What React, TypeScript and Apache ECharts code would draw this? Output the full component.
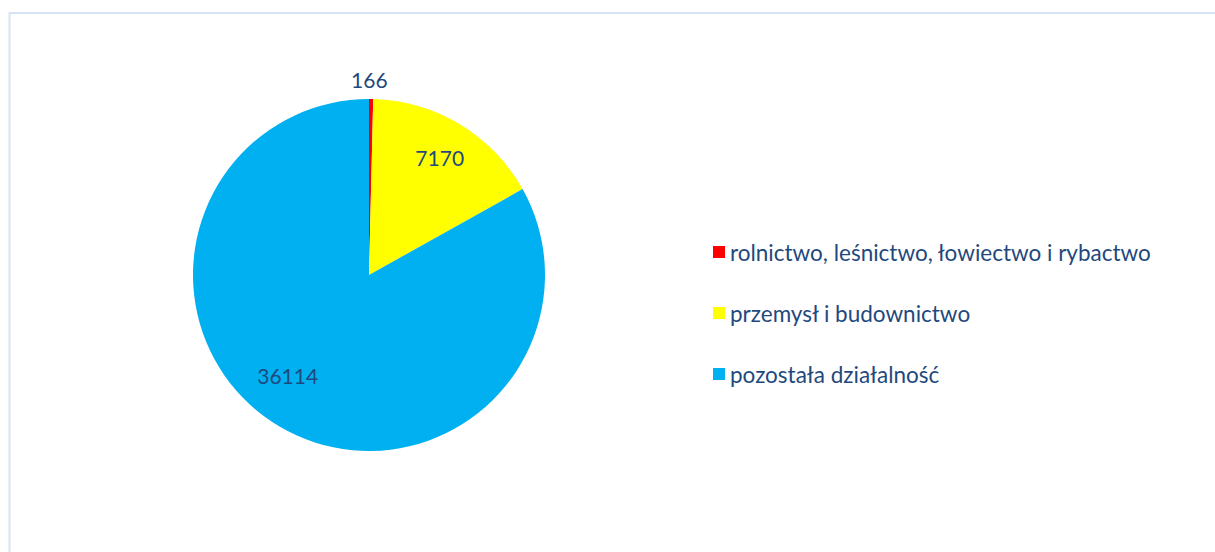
import React, { useEffect, useRef } from "react";
import * as echarts from "echarts";

const categories = [
  "rolnictwo, leśnictwo, łowiectwo i rybactwo",
  "przemysł i budownictwo",
  "pozostała działalność",
];
const values = [166, 7170, 36114];
const colors = ["#ff0000", "#ffff00", "#00b0f0"];
const textColor = "#1f497d";
const font = "Lato, 'Noto Sans', sans-serif";

export default function App() {
  const ref = useRef<HTMLDivElement>(null);
  useEffect(() => {
    document.body.style.margin = "0";
    const chart = echarts.init(ref.current!, null, { renderer: "svg" });
    const data = categories.map((name, i) => ({
      name,
      value: values[i],
      itemStyle: { color: colors[i] },
    }));
    const transparent = categories.map((name, i) => ({
      name,
      value: values[i],
      itemStyle: { color: "rgba(0,0,0,0)" },
      label: i === 2 ? { offset: [-12, -18] } : i === 0 ? { offset: [-2, 1] } : {},
    }));
    chart.setOption({
      animation: false,
      backgroundColor: "#ffffff",
      graphic: [
        {
          type: "rect",
          shape: { x: 9.5, y: 13, width: 1240, height: 600 },
          style: { fill: "none", stroke: "#d6e3f4", lineWidth: 2 },
          silent: true,
        },
      ],
      legend: {
        orient: "vertical",
        left: 708,
        top: 235,
        icon: "rect",
        itemWidth: 12,
        itemHeight: 12,
        itemGap: 37,
        selectedMode: false,
        data: categories.map((name, i) => ({ name, itemStyle: { color: colors[i] } })),
        textStyle: { color: textColor, fontSize: 22.5, fontFamily: font, lineHeight: 24 },
      },
      series: [
        {
          type: "pie",
          center: [369, 275],
          radius: [0, 176],
          startAngle: 90,
          clockwise: true,
          label: { show: false },
          labelLine: { show: false },
          silent: true,
          data,
        },
        {
          type: "pie",
          center: [369, 275],
          radius: [92, 176],
          startAngle: 90,
          clockwise: true,
          silent: true,
          label: {
            show: true,
            position: "inside",
            formatter: (p: any) => (p.dataIndex === 0 ? "" : String(p.value)),
            color: textColor,
            fontSize: 21,
            fontFamily: font,
          },
          labelLine: { show: false },
          data: transparent,
        },
        {
          type: "pie",
          center: [369, 275],
          radius: [176, 212],
          startAngle: 90,
          clockwise: true,
          silent: true,
          label: {
            show: true,
            position: "inside",
            formatter: (p: any) => (p.dataIndex === 0 ? String(p.value) : ""),
            color: textColor,
            fontSize: 21,
            fontFamily: font,
          },
          labelLine: { show: false },
          data: transparent,
        },
      ],
    });
    return () => chart.dispose();
  }, []);
  return <div ref={ref} style={{ width: 1215, height: 552 }} />;
}
